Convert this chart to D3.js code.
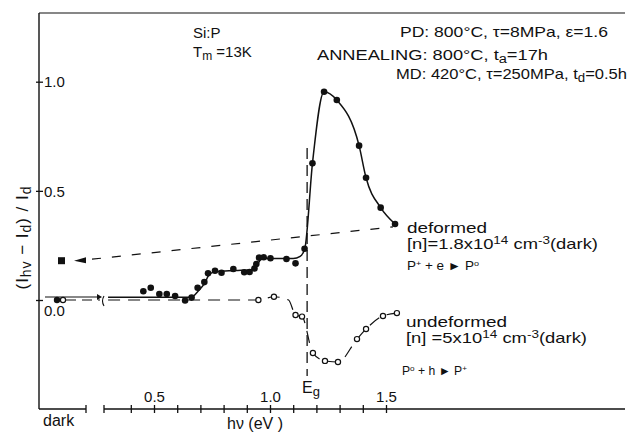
<!DOCTYPE html>
<html>
<head>
<meta charset="utf-8">
<script src="https://cdn.jsdelivr.net/npm/d3@7"></script>
<style>
  body { margin: 0; background: #fff; }
  svg { display: block; }
  text { font-family: "Liberation Sans", "DejaVu Sans", sans-serif; fill: #111; }
</style>
</head>
<body>
<div id="chart"></div>
<script>
// photon energy (eV) and (I_hv - I_d)/I_d
const deformedE   = [0.454, 0.486, 0.523, 0.555, 0.591, 0.634, 0.662, 0.688, 0.717, 0.733, 0.763, 0.791,
                     0.842, 0.889, 0.912, 0.933, 0.941, 0.953, 0.973, 1.002, 1.071, 1.110, 1.149, 1.183,
                     1.233, 1.288, 1.384, 1.414, 1.477, 1.539];
const deformedVal = [0.040, 0.056, 0.027, 0.027, 0.018, -0.002, 0.011, 0.056, 0.082, 0.122, 0.134, 0.125,
                     0.142, 0.127, 0.128, 0.144, 0.165, 0.194, 0.196, 0.191, 0.188, 0.168, 0.235, 0.626,
                     0.954, 0.916, 0.707, 0.560, 0.423, 0.348];
// hand-drawn guide line through the deformed points
const deformedFitE   = [0.302, 0.66, 0.69, 0.72, 0.74, 0.77, 0.85, 0.93, 0.95, 0.965, 1.00, 1.10, 1.13, 1.15,
                        1.183, 1.233, 1.288, 1.384, 1.414, 1.477, 1.539];
const deformedFitVal = [0.013, 0.013, 0.04, 0.08, 0.12, 0.13, 0.135, 0.14, 0.17, 0.19, 0.19, 0.19, 0.20, 0.235,
                        0.626, 0.954, 0.916, 0.707, 0.560, 0.423, 0.348];

const undeformedE   = [0.950, 1.017, 1.110, 1.138, 1.185, 1.237, 1.293, 1.375, 1.414, 1.487, 1.547];
const undeformedVal = [0.0, 0.015, -0.069, -0.076, -0.243, -0.279, -0.284, -0.179, -0.133, -0.073, -0.060];
const undeformedFitE   = [0.302, 0.950, 1.017, 1.08, 1.110, 1.138, 1.185, 1.237, 1.293, 1.375, 1.414, 1.487, 1.547];
const undeformedFitVal = [0.0, 0.0, 0.015, 0.0, -0.069, -0.076, -0.243, -0.279, -0.284, -0.179, -0.133, -0.073, -0.060];

// dark values
const darkDeformed = 0.0;
const darkDeformedSquare = 0.18;
const darkUndeformed = 0.0;
const guideEnd = [1.53, 0.335];   // dashed dark-level guide for deformed sample

const energyGap = 1.16;
const xTicks = [0.4, 0.5, 0.6, 0.7, 0.8, 0.9, 1.0, 1.1, 1.2, 1.3, 1.4, 1.5];
const xLabels = [0.5, 1.0, 1.5];
const yTicks = [0, 0.5, 1.0];

const W = 629, H = 434;
const svg = d3.select('#chart').append('svg').attr('width', W).attr('height', H);

const x = d3.scaleLinear().domain([0.5, 1.5]).range([154, 386]);
const y = d3.scaleLinear().domain([0, 1]).range([300, 81.7]);
const xAxisY = 409, yAxisX = 39, darkX = 60;

// frame: left axis + top line
svg.append('line').attr('x1', yAxisX).attr('y1', 13).attr('x2', yAxisX).attr('y2', xAxisY)
  .attr('stroke', '#111').attr('stroke-width', 1.4);
svg.append('line').attr('x1', yAxisX).attr('y1', 13).attr('x2', 625).attr('y2', 13)
  .attr('stroke', '#111').attr('stroke-width', 1.2);

// x axis (two segments: dark and energy)
svg.append('line').attr('x1', yAxisX).attr('y1', xAxisY).attr('x2', 86).attr('y2', xAxisY)
  .attr('stroke', '#111').attr('stroke-width', 1.4);
svg.append('line').attr('x1', 104).attr('y1', xAxisY).attr('x2', 625).attr('y2', xAxisY)
  .attr('stroke', '#111').attr('stroke-width', 1.4);
[86, 104].forEach(bx => {
  svg.append('line').attr('x1', bx).attr('x2', bx).attr('y1', xAxisY - 4).attr('y2', xAxisY + 4)
    .attr('stroke', '#111').attr('stroke-width', 1.3);
});

const gx = svg.append('g').attr('transform', `translate(0,${xAxisY})`)
  .call(d3.axisBottom(x).tickValues(xTicks).tickSizeInner(4).tickSizeOuter(0)
    .tickFormat(d => xLabels.some(v => Math.abs(v - d) < 1e-9) ? d3.format('.1f')(d) : ''));
gx.select('.domain').remove();
gx.selectAll('.tick line').attr('y1', -4).attr('stroke', '#111').attr('stroke-width', 1.3);
gx.selectAll('.tick text').attr('y', -7).attr('dy', 0)
  .style('font-size', '15px').style('font-family', '"Liberation Sans", sans-serif').attr('fill', '#111');

// y axis ticks
const gy = svg.append('g').attr('transform', `translate(${yAxisX},0)`)
  .call(d3.axisLeft(y).tickValues(yTicks).tickSizeInner(3).tickSizeOuter(0).tickFormat(d3.format('.1f')));
gy.select('.domain').remove();
gy.selectAll('.tick line').attr('x2', -3).attr('x1', 4).attr('stroke', '#111').attr('stroke-width', 1.3);
gy.selectAll('.tick text').attr('x', 5).attr('dy', '0.35em').attr('text-anchor', 'start')
  .style('font-size', '15px').style('font-family', '"Liberation Sans", sans-serif').attr('fill', '#111');
gy.selectAll('.tick text').filter(d => d === 0).attr('dy', '1em');

// text with small sub/superscripts
function addText(px, py, parts, size, len, transform, adjust) {
  const t = svg.append('text').style('font-size', size + 'px');
  if (transform) t.attr('transform', transform).attr('text-anchor', 'middle');
  else t.attr('x', px).attr('y', py);
  parts.forEach(p => {
    const s = t.append('tspan').text(p[0]);
    if (p[1] === 'sub') s.attr('baseline-shift', -Math.round(size * 0.2)).style('font-size', (size - 3) + 'px');
    if (p[1] === 'sup') s.attr('baseline-shift', Math.round(size * 0.33)).style('font-size', (size - 4) + 'px');
  });
  if (len) t.attr('textLength', len).attr('lengthAdjust', adjust || 'spacingAndGlyphs');
  return t;
}

// axis titles
addText(43, 426, [['dark']], 16);
addText(227, 429, [['hν (eV )']], 16);
addText(0, 0, [['(I'], ['hv', 'sub'], [' − I'], ['d', 'sub'], [') / I'], ['d', 'sub']], 17, 103,
  'translate(28,238) rotate(-90)', 'spacing');

// Eg line
svg.append('line').attr('x1', x(energyGap)).attr('x2', x(energyGap)).attr('y1', 148).attr('y2', 376)
  .attr('stroke', '#111').attr('stroke-width', 1.3).attr('stroke-dasharray', '11,6');
addText(x(energyGap) - 5, 393, [['E'], ['g', 'sub']], 16);

// dark region marks
svg.append('line').attr('x1', 45).attr('x2', 97).attr('y1', y(0) - 3).attr('y2', y(0) - 3)
  .attr('stroke', '#111').attr('stroke-width', 1.2);
svg.append('path').attr('d', `M${97},${y(0) - 6}L${102},${y(0) - 3}L${97},${y(0)}Z`).attr('fill', '#111');
svg.append('line').attr('x1', 66).attr('x2', 100).attr('y1', y(0)).attr('y2', y(0))
  .attr('stroke', '#111').attr('stroke-width', 1.2).attr('stroke-dasharray', '10,6');
svg.append('path').attr('d', 'M104,296 Q101,301 104,306').attr('fill', 'none').attr('stroke', '#111').attr('stroke-width', 1.1);

// deformed dark guide (dashed)
svg.append('path')
  .attr('d', `M${74},${y(darkDeformedSquare)}L${86},${y(darkDeformedSquare) - 3.5}L${86},${y(darkDeformedSquare) + 2.5}Z`)
  .attr('fill', '#111');
svg.append('line').attr('x1', 92).attr('y1', y(darkDeformedSquare) - 1.5)
  .attr('x2', x(guideEnd[0])).attr('y2', y(guideEnd[1]))
  .attr('stroke', '#111').attr('stroke-width', 1.2).attr('stroke-dasharray', '9,11');
svg.append('rect').attr('x', darkX - 2).attr('y', y(darkDeformedSquare) - 3.5)
  .attr('width', 7).attr('height', 7).attr('fill', '#111');
svg.append('circle').attr('cx', darkX - 3).attr('cy', y(darkDeformed)).attr('r', 3.2).attr('fill', '#111');
svg.append('circle').attr('cx', darkX + 3).attr('cy', y(darkUndeformed)).attr('r', 2.6)
  .attr('fill', '#fff').attr('stroke', '#111').attr('stroke-width', 1.2);

// undeformed curve (dashed) + open circles
const undefFit = undeformedFitE.map((e, i) => [e, undeformedFitVal[i]]);
svg.append('path').datum(undefFit)
  .attr('d', d3.line().x(d => x(d[0])).y(d => y(d[1])).curve(d3.curveMonotoneX))
  .attr('fill', 'none').attr('stroke', '#111').attr('stroke-width', 1.2).attr('stroke-dasharray', '12,8');
svg.selectAll('.undef').data(undeformedE.map((e, i) => [e, undeformedVal[i]])).enter()
  .append('circle').attr('class', 'undef')
  .attr('cx', d => x(d[0])).attr('cy', d => y(d[1])).attr('r', 2.6)
  .attr('fill', '#fff').attr('stroke', '#111').attr('stroke-width', 1.2);

// deformed curve (solid) + filled circles
const defFit = deformedFitE.map((e, i) => [e, deformedFitVal[i]]);
svg.append('path').datum(defFit)
  .attr('d', d3.line().x(d => x(d[0])).y(d => y(d[1])).curve(d3.curveMonotoneX))
  .attr('fill', 'none').attr('stroke', '#111').attr('stroke-width', 1.5);
svg.selectAll('.def').data(deformedE.map((e, i) => [e, deformedVal[i]])).enter()
  .append('circle').attr('class', 'def')
  .attr('cx', d => x(d[0])).attr('cy', d => y(d[1])).attr('r', 3.3).attr('fill', '#111');

// header texts
addText(193, 38, [['Si:P']], 15);
addText(193, 57, [['T'], ['m', 'sub'], [' =13K']], 15);
addText(400, 37, [['PD: 800°C,    τ=8MPa, ε=1.6']], 15, 208);
addText(317, 60, [['ANNEALING: 800°C,  t'], ['a', 'sub'], ['=17h']], 15, 231);
addText(396, 79, [['MD: 420°C, τ=250MPa, t'], ['d', 'sub'], ['=0.5h']], 15, 231);

// curve labels
addText(407, 233, [['deformed']], 15, 80);
addText(407, 249, [['[n]=1.8x10'], ['14', 'sup'], [' cm'], ['-3', 'sup'], ['(dark)']], 15, 191);
addText(407, 270, [['P'], ['+', 'sup'], [' + e ► P'], ['o', 'sup']], 12, 72);
addText(406, 327, [['undeformed']], 15, 101);
addText(406, 343, [['[n] =5x10'], ['14', 'sup'], [' cm'], ['-3', 'sup'], ['(dark)']], 15, 181);
addText(402, 375, [['P'], ['o', 'sup'], ['  +  h  ►  P'], ['+', 'sup']], 12, 65);
</script>
</body>
</html>
